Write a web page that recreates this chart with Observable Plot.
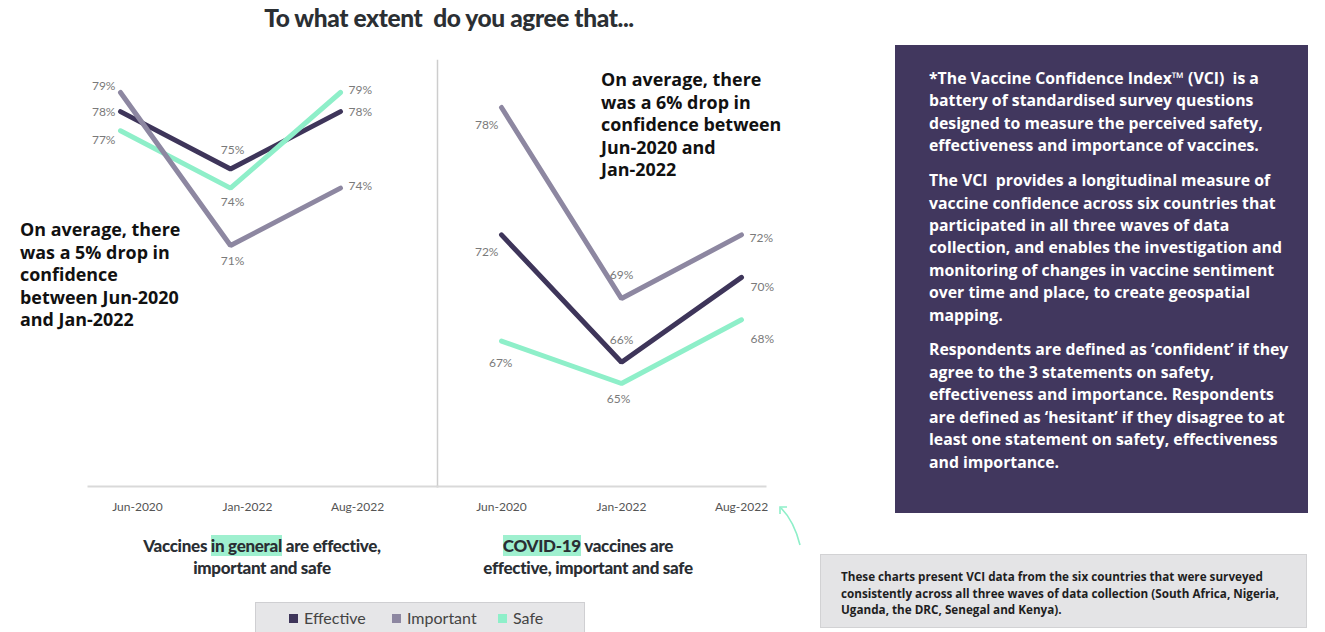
<!DOCTYPE html>
<html>
<head>
<meta charset="utf-8">
<script src="https://cdn.jsdelivr.net/npm/d3@7"></script>
<script src="https://cdn.jsdelivr.net/npm/@observablehq/plot@0.6"></script>
<style>
  html, body { margin: 0; padding: 0; background: #fff; }
  #page { position: relative; width: 1325px; height: 632px; overflow: hidden; font-family: Lato, "Noto Sans", sans-serif; }
  .abs { position: absolute; }
  .title { left: 0; top: 3px; width: 898px; text-align: center; font-weight: 900; font-size: 24.5px; color: #2b2f33; letter-spacing: -0.4px; }
  .annot { font-family: "Open Sans", Lato, sans-serif; font-weight: 700; font-size: 17.9px; line-height: 22.5px; color: #111; white-space: nowrap; }
  .sub { text-align: center; font-weight: 900; font-size: 17px; line-height: 22px; color: #2a2e33; white-space: nowrap; letter-spacing: -0.3px; }
  .hl { background: #9ff0cf; }
  .vci { left: 895px; top: 45px; width: 413px; height: 468px; background: #41375e; color: #fff; box-sizing: border-box; padding: 22px 0 0 34px; font-family: "Open Sans", Lato, sans-serif; font-weight: 700; font-size: 15.8px; line-height: 22.4px; white-space: nowrap; }
  .vci p { margin: 0 0 12.5px 0; }
  .note { left: 820px; top: 554px; width: 487px; height: 74px; background: #e4e4e6; border: 1px solid #d2d2d4; box-sizing: border-box; padding: 13px 0 0 20px; font-family: "Open Sans", Lato, sans-serif; font-weight: 700; font-size: 11.7px; line-height: 16.5px; color: #1e1e1e; white-space: nowrap; }
  .legend { left: 255px; top: 602px; width: 330px; height: 34px; background: #e6e6e8; border: 1px solid #cfcfd2; box-sizing: border-box; font-size: 16px; color: #444; }
  .legend span.item { position: absolute; top: 5px; white-space: nowrap; }
  .legend span.sw { display: inline-block; width: 9px; height: 9px; margin-right: 6px; vertical-align: 1px; }
</style>
</head>
<body>
<div id="page">
  <div class="abs title">To what extent&nbsp; do you agree that...</div>
  <div class="abs" id="leftChart" style="left:0;top:0;"></div>
  <div class="abs" id="rightChart" style="left:437px;top:0;"></div>
  <div class="abs annot" style="left:20px;top:218px;">On average, there<br>was a 5% drop in<br>confidence<br>between Jun-2020<br>and Jan-2022</div>
  <div class="abs annot" style="left:601px;top:68px;">On average, there<br>was a 6% drop in<br>confidence between<br>Jun-2020 and<br>Jan-2022</div>
  <div class="abs sub" style="left:62px;top:535px;width:400px;">Vaccines <span class="hl">in general</span> are effective,<br>important and safe</div>
  <div class="abs sub" style="left:388px;top:535px;width:400px;"><span class="hl">COVID-19</span> vaccines are<br>effective, important and safe</div>
  <div class="abs legend" id="legend"></div>
  <div class="abs vci">
    <p>*The Vaccine Confidence Index™ (VCI)&nbsp; is a<br>battery of standardised survey questions<br>designed to measure the perceived safety,<br>effectiveness and importance of vaccines.</p>
    <p>The VCI&nbsp; provides a longitudinal measure of<br>vaccine confidence across six countries that<br>participated in all three waves of data<br>collection, and enables the investigation and<br>monitoring of changes in vaccine sentiment<br>over time and place, to create geospatial<br>mapping.</p>
    <p>Respondents are defined as ‘confident’ if they<br>agree to the 3 statements on safety,<br>effectiveness and importance. Respondents<br>are defined as ‘hesitant’ if they disagree to at<br>least one statement on safety, effectiveness<br>and importance.</p>
  </div>
  <div class="abs note">These charts present VCI data from the six countries that were surveyed<br>consistently across all three waves of data collection (South Africa, Nigeria,<br>Uganda, the DRC, Senegal and Kenya).</div>
  <svg class="abs" style="left:770px;top:495px;" width="50" height="60">
    <path d="M30,50 Q24,26 11,13" fill="none" stroke="#8eefc9" stroke-width="1.6"/>
    <path d="M10,19 L10,12 L17,12" fill="none" stroke="#8eefc9" stroke-width="1.6"/>
  </svg>
</div>
<script>
// ---- data ----
const waves = ["Jun-2020", "Jan-2022", "Aug-2022"];
const seriesNames = ["Effective", "Important", "Safe"];
const seriesColors = ["#3e355a", "#8d87a1", "#8eefc9"];

// Vaccines in general
const generalEffective = [78, 75, 78];
const generalImportant = [79, 71, 74];
const generalSafe = [77, 74, 79];

// COVID-19 vaccines
const covidEffective = [72, 66, 70];
const covidImportant = [78, 69, 72];
const covidSafe = [67, 65, 68];

// ---- build tables ----
function toRows(byseries) {
  const rows = [];
  // drawing order: Effective, Safe, Important (important on top)
  for (const s of ["Effective", "Safe", "Important"]) {
    byseries[s].forEach((v, i) => rows.push({series: s, wave: waves[i], value: v, i}));
  }
  return rows;
}
const generalRows = toRows({Effective: generalEffective, Important: generalImportant, Safe: generalSafe});
const covidRows = toRows({Effective: covidEffective, Important: covidImportant, Safe: covidSafe});

// label placement (layout only): [dx, dy, anchor] per series per wave
const generalLabelLayout = {
  Effective: [[-5, 1, "end"], [2, -19, "middle"], [8, 1, "start"]],
  Important: [[-5, -6, "end"], [2, 16, "middle"], [8, -2, "start"]],
  Safe:      [[-5, 9, "end"], [2, 14, "middle"], [8, -2, "start"]]
};
const covidLabelLayout = {
  Effective: [[-3, 17, "end"], [0, -22, "middle"], [9, 10, "start"]],
  Important: [[-3, 18, "end"], [0, -23, "middle"], [8, 3, "start"]],
  Safe:      [[11, 22, "end"], [-3, 16, "middle"], [9, 19, "start"]]
};

function labelMarks(rows, layout) {
  return rows.map(d => {
    const [dx, dy, anchor] = layout[d.series][d.i];
    return Plot.text([d], {
      x: "wave", y: "value", text: d => `${d.value}%`,
      dx, dy, textAnchor: anchor, fontSize: 12, fill: "#7a7a7a"
    });
  });
}

const common = {
  height: 525,
  marginTop: 60,
  marginBottom: 39,
  color: {domain: seriesNames, range: seriesColors},
  style: {fontFamily: "Lato, 'Noto Sans', sans-serif", background: "transparent", overflow: "visible"}
};

const left = Plot.plot({
  ...common,
  width: 438,
  marginLeft: 88,
  marginRight: 1,
  x: {type: "point", domain: waves, range: [120, 340], padding: 0, axis: null, label: null},
  y: {domain: [71, 79], range: [245, 92], axis: null},
  marks: [
    Plot.frame({anchor: "bottom", stroke: "#d9d9d9", strokeWidth: 2}),
    Plot.frame({anchor: "right", stroke: "#cdcdcd", strokeWidth: 1.5}),
    Plot.axisX({tickSize: 0, tickPadding: 16, fontSize: 12, color: "#555", dx: 17, label: null}),
    Plot.line(generalRows, {x: "wave", y: "value", z: "series", stroke: "series", strokeWidth: 5, strokeLinejoin: "miter"}),
    ...labelMarks(generalRows, generalLabelLayout)
  ]
});
document.getElementById("leftChart").appendChild(left);

const right = Plot.plot({
  ...common,
  width: 343,
  marginLeft: 0,
  marginRight: 15,
  x: {type: "point", domain: waves, range: [63, 304], padding: 0, axis: null, label: null},
  y: {domain: [65, 78], range: [383, 107], axis: null},
  marks: [
    Plot.frame({anchor: "bottom", stroke: "#d9d9d9", strokeWidth: 2}),
    Plot.axisX({tickSize: 0, tickPadding: 16, fontSize: 12, color: "#555", label: null}),
    Plot.line(covidRows, {x: "wave", y: "value", z: "series", stroke: "series", strokeWidth: 5, strokeLinejoin: "miter"}),
    ...labelMarks(covidRows, covidLabelLayout)
  ]
});
document.getElementById("rightChart").appendChild(right);

// legend
const legendX = [33, 136, 242];
const legend = document.getElementById("legend");
seriesNames.forEach((s, i) => {
  const item = document.createElement("span");
  item.className = "item";
  item.style.left = legendX[i] + "px";
  const sw = document.createElement("span");
  sw.className = "sw";
  sw.style.background = seriesColors[i];
  item.appendChild(sw);
  item.appendChild(document.createTextNode(s));
  legend.appendChild(item);
});
</script>
</body>
</html>
